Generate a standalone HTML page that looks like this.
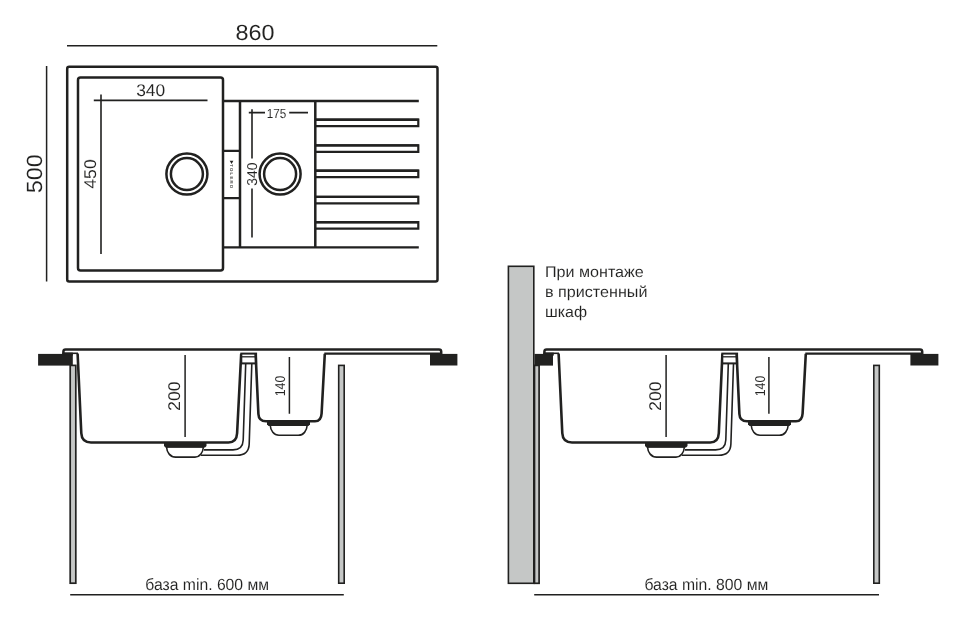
<!DOCTYPE html>
<html lang="ru">
<head>
<meta charset="utf-8">
<title>860 x 500</title>
<style>
html,body{margin:0;padding:0;background:#fff;}
body{width:966px;height:620px;overflow:hidden;font-family:"Liberation Sans",sans-serif;}
svg{display:block;will-change:transform;}
text{text-rendering:geometricPrecision;stroke:#fff;stroke-width:0.08px;}
</style>
</head>
<body>
<svg width="966" height="620" viewBox="0 0 966 620" font-family="'Liberation Sans', sans-serif" fill="#212120">
<rect width="966" height="620" fill="#fff"/>
<g fill="none" stroke="#212120">
<path d="M67 45.7 H437.3 M46.6 66 V281.6" stroke-width="1.5"/>
<rect x="67.2" y="66.7" width="370.3" height="214.8" rx="2" stroke-width="2.5"/>
<rect x="78" y="77.5" width="145" height="193" rx="2.5" stroke-width="2.5"/>
<path d="M223 101 H418.8 M223 247.3 H418.8" stroke-width="2.3"/>
<path d="M240 101 V247.3 M315.3 101 V247.3" stroke-width="2.5"/>
<path d="M223 150.8 H240 M223 198.1 H240" stroke-width="2.3"/>
<path d="M315.5 119.7 H418.3 V126.2 H315.5" stroke-width="2.2"/>
<path d="M315.5 119.7 H418.8" stroke-width="2.4"/>
<path d="M315.5 145.4 H418.3 V151.9 H315.5" stroke-width="2.2"/>
<path d="M315.5 145.4 H418.8" stroke-width="2.4"/>
<path d="M315.5 170.7 H418.3 V177.2 H315.5" stroke-width="2.2"/>
<path d="M315.5 170.7 H418.8" stroke-width="2.4"/>
<path d="M315.5 196.9 H418.3 V203.4 H315.5" stroke-width="2.2"/>
<path d="M315.5 196.9 H418.8" stroke-width="2.4"/>
<path d="M315.5 222.2 H418.3 V228.7 H315.5" stroke-width="2.2"/>
<path d="M315.5 222.2 H418.8" stroke-width="2.4"/>
<circle cx="186.9" cy="174.1" r="20.5" stroke-width="2.5"/>
<circle cx="186.9" cy="174.1" r="16" stroke-width="2.5"/>
<circle cx="280.1" cy="174.1" r="20.5" stroke-width="2.5"/>
<circle cx="280.1" cy="174.1" r="16" stroke-width="2.5"/>
<path d="M93.8 100.4 H207.5 M101 94.5 V254" stroke-width="1.6"/>
<path d="M248.8 112.6 H265 M289.2 112.6 H308 M252 109.3 V158.5 M252 188.5 V237.6" stroke-width="1.6"/>
</g>
<text x="255.1" y="40.4" text-anchor="middle" font-size="22" textLength="39.1" lengthAdjust="spacingAndGlyphs">860</text>
<text transform="translate(42 173.7) rotate(-90)" text-anchor="middle" font-size="22" textLength="39" lengthAdjust="spacingAndGlyphs">500</text>
<text x="150.7" y="95.5" text-anchor="middle" font-size="17" textLength="29" lengthAdjust="spacingAndGlyphs">340</text>
<text transform="translate(96 174) rotate(-90)" text-anchor="middle" font-size="17" textLength="29.5" lengthAdjust="spacingAndGlyphs">450</text>
<text x="276.4" y="117.6" text-anchor="middle" font-size="13.2" textLength="19.5" lengthAdjust="spacingAndGlyphs">175</text>
<text transform="translate(256.7 174.1) rotate(-90)" text-anchor="middle" font-size="14.3" textLength="23.2" lengthAdjust="spacingAndGlyphs">340</text>
<path d="M229.7 160.8 H233.4 L231.55 164 Z" fill="#212120"/>
<text transform="translate(230.2 176.2) rotate(90)" text-anchor="middle" font-size="4.3" font-weight="bold" textLength="23.8" lengthAdjust="spacing">TOLERO</text>
<g transform="translate(0 0)">
<rect x="70.2" y="365.4" width="5.6" height="217.8" fill="#c5c7c6" stroke="#212120" stroke-width="1.7"/>
<rect x="38.1" y="353.9" width="34.7" height="11.7" fill="#212120"/>
<rect x="62.3" y="352.6" width="10.5" height="3" fill="#212120"/>
<rect x="338.70" y="365.4" width="5.5" height="217.8" fill="#c5c7c6" stroke="#212120" stroke-width="1.6"/>
<rect x="430" y="353.9" width="27.4" height="11.6" fill="#212120"/>
<path d="M63.4 354.5 V351.6 Q63.4 349.4 65.6 349.4 H439 Q441.2 349.4 441.2 351.6 V354" fill="none" stroke="#212120" stroke-width="2.5"/>
<path d="M441 353.7 H324.3" fill="none" stroke="#212120" stroke-width="2.2"/>
<path d="M63 353.3 H78" fill="none" stroke="#212120" stroke-width="1.6"/>
<path d="M77.6 353.5 L81.3 433.3 Q81.8 442.5 91 442.5 H228.5 Q236.6 442.5 237.1 433.3 L241.20 353.7" fill="none" stroke="#212120" stroke-width="2.6" stroke-linejoin="round"/>
<rect x="241.3" y="353.6" width="14.8" height="9.8" fill="#fff" stroke="#212120" stroke-width="2"/>
<path d="M241.2 356.8 H256.2" stroke="#212120" stroke-width="1.3" fill="none"/>
<path d="M245.7 364 L243.2 440 Q242.8 449.9 233 449.9 H204" fill="none" stroke="#212120" stroke-width="1.6"/>
<path d="M251.8 364 L249.2 444 Q248.8 455.3 237 455.3 H201" fill="none" stroke="#212120" stroke-width="1.6"/>
<path d="M255.6 353.7 L258.4 414 Q258.8 421.3 266 421.3 H315 Q321.2 421.3 321.6 413.5 L324.8 353.7" fill="none" stroke="#212120" stroke-width="2.6" stroke-linejoin="round"/>
<path d="M166.5 447 C166.9 452.5 170.2 457.1 175.7 457.1 H195 C200 457.1 203 452.5 203.4 447 Z" fill="#fff" stroke="#212120" stroke-width="1.6"/>
<path d="M164 442.3 H206.5 V446 L205 447.6 H165.5 L164 446 Z" fill="#212120"/>
<path d="M270.2 425.3 C270.6 430.8 273.8 435.3 279 435.3 H298.3 C303.5 435.3 306.8 430.8 307.2 425.3 Z" fill="#fff" stroke="#212120" stroke-width="1.6"/>
<path d="M267 421.3 H310 V424.3 L308.5 426 H268.5 L267 424.3 Z" fill="#212120"/>
<path d="M185.1 355 V437 M289.4 357 V413.8" stroke="#212120" stroke-width="1.5" fill="none"/>
<text transform="translate(180.1 396.2) rotate(-90)" text-anchor="middle" font-size="17" textLength="29.5" lengthAdjust="spacingAndGlyphs">200</text>
<text transform="translate(285.2 386) rotate(-90)" text-anchor="middle" font-size="14.3" textLength="20.6" lengthAdjust="spacingAndGlyphs">140</text>
</g>
<g transform="translate(481 0)">
<rect x="27.4" y="266.3" width="25.4" height="317" fill="#c5c7c6" stroke="#212120" stroke-width="1.6"/>
<rect x="53.5" y="365.4" width="4.6" height="217.9" fill="#c5c7c6" stroke="#212120" stroke-width="1.7"/>
<rect x="53.5" y="353.9" width="18.5" height="11.7" fill="#212120"/>
<rect x="62.3" y="352.6" width="10.5" height="3" fill="#212120"/>
<rect x="392.80" y="365.4" width="5.5" height="217.8" fill="#c5c7c6" stroke="#212120" stroke-width="1.6"/>
<rect x="429.4" y="353.9" width="28" height="11.6" fill="#212120"/>
<path d="M63.4 354.5 V351.6 Q63.4 349.4 65.6 349.4 H439 Q441.2 349.4 441.2 351.6 V354" fill="none" stroke="#212120" stroke-width="2.5"/>
<path d="M441 353.7 H324.3" fill="none" stroke="#212120" stroke-width="2.2"/>
<path d="M63 353.3 H78" fill="none" stroke="#212120" stroke-width="1.6"/>
<path d="M77.6 353.5 L81.3 433.3 Q81.8 442.5 91 442.5 H229.2 Q237.3 442.5 237.8 433.3 L241.41 353.7" fill="none" stroke="#212120" stroke-width="2.6" stroke-linejoin="round"/>
<rect x="241.3" y="353.6" width="14.8" height="9.8" fill="#fff" stroke="#212120" stroke-width="2"/>
<path d="M241.2 356.8 H256.2" stroke="#212120" stroke-width="1.3" fill="none"/>
<path d="M247.3 364 L244.8 440 Q244.4 449.9 234.6 449.9 H204" fill="none" stroke="#212120" stroke-width="1.6"/>
<path d="M252.5 364 L249.9 444 Q249.5 455.3 237.7 455.3 H201" fill="none" stroke="#212120" stroke-width="1.6"/>
<path d="M255.6 353.7 L258.4 414 Q258.8 421.3 266 421.3 H315 Q321.2 421.3 321.6 413.5 L324.8 353.7" fill="none" stroke="#212120" stroke-width="2.6" stroke-linejoin="round"/>
<path d="M166.5 447 C166.9 452.5 170.2 457.1 175.7 457.1 H195 C200 457.1 203 452.5 203.4 447 Z" fill="#fff" stroke="#212120" stroke-width="1.6"/>
<path d="M164 442.3 H206.5 V446 L205 447.6 H165.5 L164 446 Z" fill="#212120"/>
<path d="M270.2 425.3 C270.6 430.8 273.8 435.3 279 435.3 H298.3 C303.5 435.3 306.8 430.8 307.2 425.3 Z" fill="#fff" stroke="#212120" stroke-width="1.6"/>
<path d="M267 421.3 H310 V424.3 L308.5 426 H268.5 L267 424.3 Z" fill="#212120"/>
<path d="M185.1 355 V437 M287.9 357 V413.8" stroke="#212120" stroke-width="1.5" fill="none"/>
<text transform="translate(180.1 396.2) rotate(-90)" text-anchor="middle" font-size="17" textLength="29.5" lengthAdjust="spacingAndGlyphs">200</text>
<text transform="translate(283.7 386) rotate(-90)" text-anchor="middle" font-size="14.3" textLength="20.6" lengthAdjust="spacingAndGlyphs">140</text>
</g>
<path d="M70.2 594.8 H343.8 M534.2 594.8 H879" stroke="#212120" stroke-width="1.6" fill="none"/>
<text x="207.2" y="589.5" text-anchor="middle" font-size="16.3" textLength="123.8" lengthAdjust="spacingAndGlyphs">база min. 600 мм</text>
<text x="706.4" y="589.5" text-anchor="middle" font-size="16.3" textLength="124" lengthAdjust="spacingAndGlyphs">база min. 800 мм</text>
<text x="545" y="277.2" font-size="15.5" textLength="98.8" lengthAdjust="spacingAndGlyphs">При монтаже</text>
<text x="545" y="297.2" font-size="15.5" textLength="102.5" lengthAdjust="spacingAndGlyphs">в пристенный</text>
<text x="545" y="317.2" font-size="15.5" textLength="42" lengthAdjust="spacingAndGlyphs">шкаф</text>
</svg>
</body>
</html>
